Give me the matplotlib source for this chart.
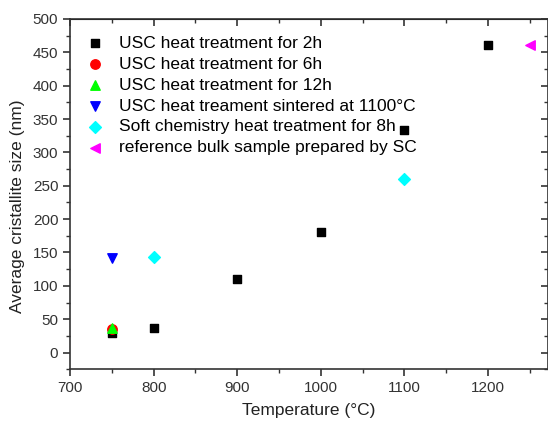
import matplotlib
matplotlib.use('Agg')
import matplotlib.pyplot as plt
from matplotlib.ticker import MultipleLocator

plt.rcParams['font.family'] = ['Liberation Sans', 'DejaVu Sans']

# data
temp_2h = [750, 800, 900, 1000, 1100, 1200]
size_2h = [30, 37, 110, 180, 333, 461]
temp_6h = [750]
size_6h = [35]
temp_12h = [750]
size_12h = [37]
temp_sint = [750]
size_sint = [142]
temp_soft = [800, 1100]
size_soft = [143, 260]
temp_ref = [1250]
size_ref = [461]

labels = [
    'USC heat treatment for 2h',
    'USC heat treatment for 6h',
    'USC heat treatment for 12h',
    'USC heat treament sintered at 1100\u00b0C',
    'Soft chemistry heat treatment for 8h',
    'reference bulk sample prepared by SC',
]

fig = plt.figure(figsize=(5.48, 4.22), dpi=100)
ax = fig.add_axes([0.128, 0.125, 0.872, 0.83])

ms = 36
ax.scatter(temp_2h, size_2h, marker='s', c='black', s=ms, label=labels[0], zorder=3)
ax.scatter(temp_6h, size_6h, marker='o', c='red', s=ms + 10, label=labels[1], zorder=3)
ax.scatter(temp_12h, size_12h, marker='^', c='#00ff00', s=ms + 10, label=labels[2], zorder=3)
ax.scatter(temp_sint, size_sint, marker='v', c='blue', s=ms + 10, label=labels[3], zorder=3)
ax.scatter(temp_soft, size_soft, marker='D', c='cyan', s=ms, label=labels[4], zorder=3)
ax.scatter(temp_ref, size_ref, marker='<', c='magenta', s=ms + 10, label=labels[5], zorder=3)

ax.set_xlim(700, 1272)
ax.set_ylim(-25, 500)
ax.xaxis.set_major_locator(MultipleLocator(100))
ax.xaxis.set_minor_locator(MultipleLocator(50))
ax.yaxis.set_major_locator(MultipleLocator(50))
ax.yaxis.set_minor_locator(MultipleLocator(25))

ax.tick_params(which='both', direction='out', top=False, right=False,
               labelsize=11, colors='#333333', labelcolor='#333333')
ax.tick_params(which='major', length=5, width=1.2)
ax.tick_params(which='minor', length=3, width=1.0)

# inward ticks on the top/right, like the original
for side in ['top', 'right']:
    sec = ax.secondary_xaxis('top') if side == 'top' else ax.secondary_yaxis('right')
    axis = sec.xaxis if side == 'top' else sec.yaxis
    axis.set_major_locator(MultipleLocator(100 if side == 'top' else 50))
    axis.set_minor_locator(MultipleLocator(50 if side == 'top' else 25))
    sec.tick_params(which='both', direction='in', labelleft=False, labelright=False,
                    labeltop=False, colors='#333333')
    sec.tick_params(which='major', length=5, width=1.2)
    sec.tick_params(which='minor', length=3, width=1.0)

for sp in ax.spines.values():
    sp.set_color('#333333')
    sp.set_linewidth(1.2)

ax.set_xlabel('Temperature (\u00b0C)', fontsize=12.5, color='#222222')
ax.set_ylabel('Average cristallite size (nm)', fontsize=12.5, color='#222222')
ax.xaxis.set_label_coords(0.5, -0.097)
ax.yaxis.set_label_coords(-0.094, 0.465)

ax.legend(loc='upper left', frameon=False, fontsize=12.5, handlelength=1.0,
          handletextpad=0.88, labelspacing=0.33, borderpad=0, borderaxespad=0,
          scatterpoints=1, bbox_to_anchor=(0.0335, 0.952))

fig.savefig('out.png', dpi=100)
